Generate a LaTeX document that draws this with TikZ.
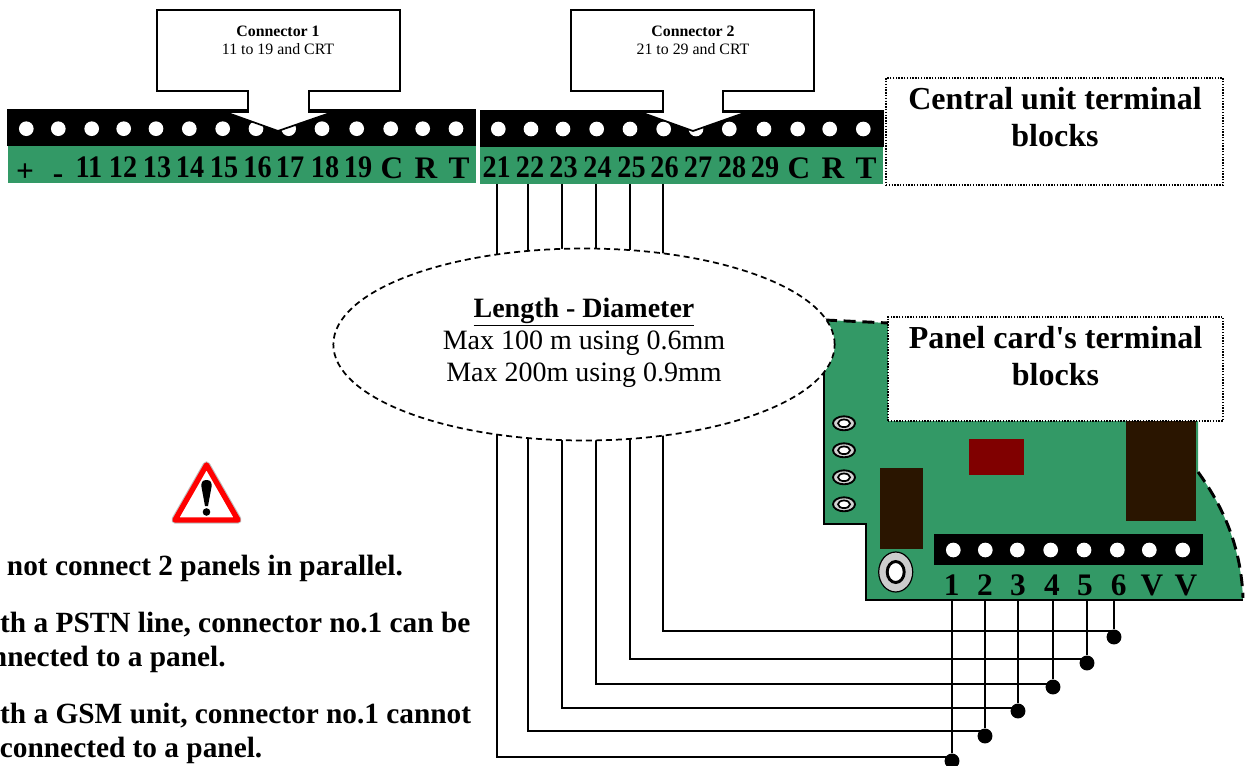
\documentclass[tikz,border=0pt]{standalone}
\usepackage{fontspec}
\setmainfont{Liberation Serif}[Ligatures=TeXOff]
\newcommand{\fsz}[2]{\fontsize{#1}{#2}\selectfont}
\definecolor{cardgreen}{HTML}{339966}
\definecolor{brownpart}{HTML}{2A1500}
\definecolor{redpart}{HTML}{800000}
\usetikzlibrary{shapes.geometric}
\tikzset{
  termlabel/.style={inner sep=0pt,anchor=base,font=\fsz{23.5}{25}\bfseries},
  termdigits/.style={inner sep=0pt,anchor=base,font=\fsz{23.5}{25}\bfseries\addfontfeature{FakeStretch=0.9}},
  hole/.style={circle,fill=white,draw=none,minimum size=11pt,inner sep=0pt},
  wire/.style={draw=black,line width=1.3pt},
  junction/.style={circle,fill=black,minimum size=11.2pt,inner sep=0pt},
  callout/.style={draw=black,fill=white,line width=1.3pt,line join=miter},
  dotbox/.style={draw=black,fill=white,densely dotted,line width=1.1pt,inner sep=0pt},
  boxtext/.style={align=center,font=\fsz{24}{27.75}\bfseries,inner sep=0pt},
  calltext/.style={align=center,inner sep=0pt,font=\fsz{11.9}{13.5}},
  warn/.style={inner sep=0pt,anchor=base west,align=left,font=\fsz{22}{25.5}\bfseries},
  cardedge/.style={draw=black,line width=1.3pt},
  cardcurve/.style={draw=black,line width=2.2pt,dash pattern=on 9pt off 5pt},
}
\begin{document}
\begin{tikzpicture}[x=0.75pt,y=-0.75pt]
\useasboundingbox (0,0) rectangle (1251,766);
\clip (0,0) rectangle (1251,766);

% ---- central unit blocks
\fill[black] (7,109) rectangle (476,146);
\fill[cardgreen] (8,146) rectangle (476,183);
\fill[black] (480,110) rectangle (884,147);
\fill[cardgreen] (480,147) rectangle (883,184);
\foreach \x in {26.3,58.3,91.7,123.7,156,189.3,222.7,256,288.7,322,356.7,390.7,422.7,456}
  \node[hole] at (\x,128.7) {};
\foreach \x in {498.3,531,563,596.7,630,663.7,696,729.3,764,797.7,829.7,863.3}
  \node[hole] at (\x,129) {};
\node[termlabel] (plus) at (25,182) {+};
\node[termlabel] (minus) at (58,184) {-};
\foreach \x/\t/\n in {89/11/a11,123/12/a12,157/13/a13,190/14/a14,224/15/a15,257.5/16/a16,290/17/a17,325/18/a18,358/19/a19}
  \node[termdigits] (\n) at (\x,178) {\t};
\foreach \x/\t/\n in {392/C/aC,426/R/aR,459/T/aT}
  \node[termlabel] (\n) at (\x,179) {\t};
\foreach \x/\t/\n in {496.7/21/b21,530/22/b22,563.5/23/b23,597.5/24/b24,631.5/25/b25,664.5/26/b26,698/27/b27,732/28/b28,765/29/b29}
  \node[termdigits] (\n) at (\x,178) {\t};
\foreach \x/\t/\n in {799/C/bC,833/R/bR,866/T/bT}
  \node[termlabel] (\n) at (\x,179) {\t};

% ---- callouts
\draw[callout] (157,10) -- (400,10) -- (400,91) -- (309,91) -- (309,112) -- (333,112) -- (278,131) -- (225,112) -- (248,112) -- (248,91) -- (157,91) -- cycle;
\draw[callout] (571,10) -- (814,10) -- (814,91) -- (723,91) -- (723,112) -- (747,112) -- (693,131) -- (640,112) -- (663,112) -- (663,91) -- (571,91) -- cycle;
\node[calltext] (c1) at (278,40) {\textbf{Connector 1}\\11 to 19 and CRT};
\node[calltext] (c2) at (693,40) {\textbf{Connector 2}\\21 to 29 and CRT};

% ---- panel card
\fill[cardgreen] (825,320) .. controls (845,321) and (868,322) .. (888,323) -- (888,421) -- (1198,421) -- (1198,472) .. controls (1222,505) and (1241,545) .. (1243,600) -- (866,600) -- (866,524) -- (824,524) -- cycle;
\draw[cardedge] (824,372) -- (824,524) -- (866,524) -- (866,600) -- (1243,600);
\draw[cardcurve] (825,320) .. controls (845,321) and (868,322) .. (888,323);
\draw[cardcurve] (1198,472) .. controls (1222,505) and (1241,545) .. (1243,598);
\fill[brownpart] (880,468) rectangle (923,549);
\fill[redpart] (969,439) rectangle (1024,475);
\fill[brownpart] (1126,420) rectangle (1196,521);
\fill[black] (934,534) rectangle (1203,565);
\foreach \x in {953.3,985.3,1017.3,1050.7,1084,1117.3,1149.3,1182.7}
  \node[hole] at (\x,550) {};
\foreach \x/\t/\n in {951.7/1/p1,985/2/p2,1018/3/p3,1052/4/p4,1085/5/p5,1118.7/6/p6,1152/V/pV,1186/V/pW}
  \node[termlabel] (\n) at (\x,595) {\t};
\foreach \y in {423.3,450.3,477.3,504.3}{
  \draw[line width=1.4pt,fill=lightgray!70] (844,\y) ellipse (11 and 7);
  \draw[line width=1.3pt,fill=white] (844,\y) ellipse (6 and 3.8);
}
\draw[line width=0.9pt,fill=lightgray!80] (895.7,572) ellipse (17 and 20);
\draw[line width=2.2pt,fill=white] (895.7,572) ellipse (8.5 and 10.5);

% ---- wires
\foreach \x/\n in {497.3/w1,528/w2,561.7/w3,596/w4,630/w5,662.7/w6} {
  \coordinate (\n t) at (\x,184);
  \coordinate (\n m) at (\x,300);
}
\foreach \x/\y/\n in {952/761/d1,985/736/d2,1018/711/d3,1053/687/d4,1087/663/d5,1114/637/d6}
  \node[junction] (\n) at (\x,\y) {};
\foreach \n in {1,...,6} \draw[wire] (w\n t) -- (w\n m);
\foreach \n/\y/\x in {1/757/952,2/731/985,3/708/1018,4/684/1053,5/659/1087,6/631/1114}
  \draw[wire] (w\n m) |- (\x,\y);
\draw[wire] (952,600) -- (d1);
\draw[wire] (985,600) -- (d2);
\draw[wire] (1018,600) -- (d3);
\draw[wire] (1053,600) -- (d4);
\draw[wire] (1087,600) -- (d5);
\draw[wire] (1114,600) -- (d6);

% ---- length ellipse
\node[ellipse,draw=black,fill=white,dash pattern=on 4.5pt off 3pt,line width=1.3pt,minimum width=376pt,minimum height=144pt,inner sep=0pt] (len) at (584,344.5) {};
\node[align=center,inner sep=0pt,font=\fsz{21}{24}] (lentext) at (584,342.5) {\textbf{\underline{Length - Diameter}}\\Max 100 m using 0.6mm\\Max 200m using 0.9mm};

% ---- text boxes
\node[dotbox,minimum width=252.75pt,minimum height=80.25pt] (central) at (1054.5,131.5) {};
\node[boxtext] (centraltext) at (1055,117.5) {Central unit terminal\\blocks};
\node[dotbox,minimum width=251.25pt,minimum height=78pt] (panel) at (1055.5,369) {};
\node[boxtext] (paneltext) at (1055.5,356) {Panel card's terminal\\blocks};

% ---- warning
\draw[draw=lightgray,line width=5.6pt,line join=round] (206.5,465) -- (175,520) -- (238,520) -- cycle;
\draw[draw=red,fill=white,line width=4pt,line join=round] (206.5,465) -- (175,520) -- (238,520) -- cycle;
\fill[black] (206.5,480) .. controls (211,480) and (212,483) .. (211.5,487) -- (208,506) -- (205,506) -- (201.5,487) .. controls (201,483) and (202,480) .. (206.5,480) -- cycle;
\fill[black] (206.5,512) circle (3.8);
\node[warn] (n1) at (-36.5,575) {Do not connect 2 panels in parallel.};
\node[warn] (n2) at (-37,632) {With a PSTN line, connector no.1 can be};
\node[warn] (n2b) at (-37,666) {connected to a panel.};
\node[warn] (n3) at (-37,723) {With a GSM unit, connector no.1 cannot};
\node[warn] (n3b) at (-37,757) {be connected to a panel.};
\end{tikzpicture}
\end{document}
